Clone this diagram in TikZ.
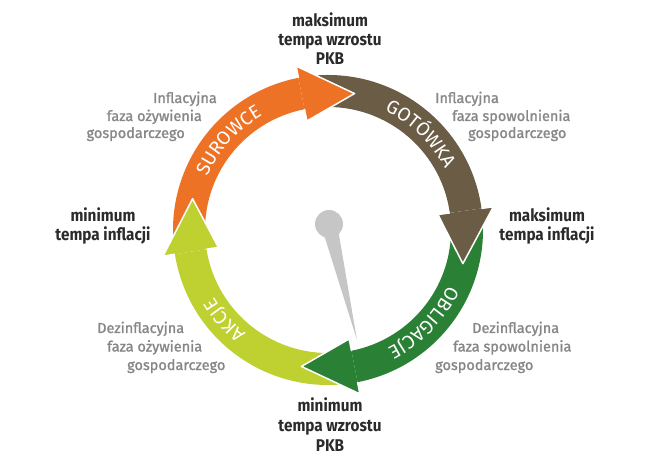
\documentclass[tikz,border=0pt]{standalone}
\usepackage{fontspec}
\setmainfont{Fira Sans}
\newfontfamily\headfont{Fira Sans}[FakeStretch=0.9]
\newfontfamily\phasefont{Fira Sans}[FakeBold=1.4]
\usetikzlibrary{decorations.text}

\definecolor{surowce}{HTML}{EE7226}
\definecolor{gotowka}{HTML}{6B5C45}
\definecolor{obligacje}{HTML}{2A8035}
\definecolor{akcje}{HTML}{BED131}
\definecolor{needle}{HTML}{C6C6C6}
\definecolor{darktext}{HTML}{2B2B2B}
\definecolor{phasetext}{HTML}{878787}

\newcommand\arcfont{\fontsize{19}{19}\selectfont}

\begin{document}
\begin{tikzpicture}[
    x=1pt, y=1pt,
    extremelbl/.style={font=\headfont\bfseries\fontsize{17}{20}\selectfont, text=darktext, inner sep=0pt, anchor=base},
    phaselbl/.style={font=\phasefont\fontsize{14.5}{17}\selectfont, text=phasetext, inner sep=0pt},
    headline/.style={draw=white, line width=1.5pt, line join=round},
    arclbl/.style={decorate, decoration={text along path, text align=center, text color=white}}
]

% Ring geometry (pt): centre, band radii, head radii, text baseline
\def\cx{328}
\def\cy{231}
\def\rin{123}
\def\rout{155}
\def\rmid{139}
\def\rhin{111}
\def\rhout{167}
\def\rtxt{132}

\useasboundingbox (0,0) rectangle (651,461);

% needle
\fill[needle] (329,237) circle[radius=14];
\fill[needle] (321.2,235.1) -- (357,121) -- (336.8,238.9) -- cycle;

\begin{scope}[shift={(\cx,\cy)}]

% bands
\fill[surowce]   (184:\rin) arc[start angle=184, end angle=101, radius=\rin]
                 -- (101:\rout) arc[start angle=101, end angle=184, radius=\rout] -- cycle;
\fill[gotowka]   (96:\rin) arc[start angle=96, end angle=8, radius=\rin]
                 -- (8:\rout) arc[start angle=8, end angle=96, radius=\rout] -- cycle;
\fill[obligacje] (4:\rin) arc[start angle=4, end angle=-79, radius=\rin]
                 -- (-79:\rout) arc[start angle=-79, end angle=4, radius=\rout] -- cycle;
\fill[akcje]     (-84:\rin) arc[start angle=-84, end angle=-171, radius=\rin]
                 -- (-171:\rout) arc[start angle=-171, end angle=-84, radius=\rout] -- cycle;

% heads
\fill[surowce] (101:\rhin) -- (79:\rmid) -- (101:\rhout) -- cycle;
\draw[headline] (101:\rin) -- (101:\rhin) -- (79:\rmid) -- (101:\rhout) -- (101:\rout);

\fill[gotowka] (8:\rhin) -- (-14:\rmid) -- (8:\rhout) -- cycle;
\draw[headline] (8:\rin) -- (8:\rhin) -- (-14:\rmid) -- (8:\rhout) -- (8:\rout);

\fill[obligacje] (-79:\rhin) -- (-101:\rmid) -- (-79:\rhout) -- cycle;
\draw[headline] (-79:\rin) -- (-79:\rhin) -- (-101:\rmid) -- (-79:\rhout) -- (-79:\rout);

\fill[akcje] (-171:\rhin) -- (-193:\rmid) -- (-171:\rhout) -- cycle;
\draw[headline] (-171:\rin) -- (-171:\rhin) -- (-193:\rmid) -- (-171:\rhout) -- (-171:\rout);

% band labels
\path[arclbl, decoration={text={|\arcfont|SUROWCE}}]
    (178:\rtxt) arc[start angle=178, end angle=98, radius=\rtxt];
\path[arclbl, decoration={text={|\arcfont|GOTÓWKA}}]
    (86:\rtxt) arc[start angle=86, end angle=6, radius=\rtxt];
\path[arclbl, decoration={text={|\arcfont|OBLIGACJE}}]
    (-4:\rtxt) arc[start angle=-4, end angle=-84, radius=\rtxt];
\path[arclbl, decoration={text={|\arcfont|AKCJE}}]
    (-99:\rtxt) arc[start angle=-99, end angle=-179, radius=\rtxt];

\end{scope}

% maksimum tempa wzrostu PKB
\node[extremelbl] (maxgdp1) at (330,434) {maksimum};
\node[extremelbl] (maxgdp2) at (330,415) {tempa wzrostu};
\node[extremelbl] (maxgdp3) at (330,396) {PKB};

% maksimum tempa inflacji
\node[extremelbl] (maxinf1) at (547,239) {maksimum};
\node[extremelbl] (maxinf2) at (547,220) {tempa inflacji};

% minimum tempa wzrostu PKB
\node[extremelbl] (mingdp1) at (330,50) {minimum};
\node[extremelbl] (mingdp2) at (330,30) {tempa wzrostu};
\node[extremelbl] (mingdp3) at (330,10) {PKB};

% minimum tempa inflacji
\node[extremelbl] (mininf1) at (103,239) {minimum};
\node[extremelbl] (mininf2) at (103,220) {tempa inflacji};

% Inflacyjna faza ozywienia
\node[phaselbl, anchor=base east] (infrec1) at (217,358) {Inflacyjna};
\node[phaselbl, anchor=base east] (infrec2) at (202,340) {faza ożywienia};
\node[phaselbl, anchor=base east] (infrec3) at (185,323) {gospodarczego};

% Inflacyjna faza spowolnienia
\node[phaselbl, anchor=base west] (infslow1) at (435,358) {Inflacyjna};
\node[phaselbl, anchor=base west] (infslow2) at (452,340) {faza spowolnienia};
\node[phaselbl, anchor=base west] (infslow3) at (468,323) {gospodarczego};

% Dezinflacyjna faza ozywienia
\node[phaselbl, anchor=base west] (disrec1) at (97,128) {Dezinflacyjna};
\node[phaselbl, anchor=base west] (disrec2) at (107,109.5) {faza ożywienia};
\node[phaselbl, anchor=base west] (disrec3) at (127,91) {gospodarczego};

% Dezinflacyjna faza spowolnienia
\node[phaselbl, anchor=base west] (disslow1) at (472,128) {Dezinflacyjna};
\node[phaselbl, anchor=base west] (disslow2) at (453,109.5) {faza spowolnienia};
\node[phaselbl, anchor=base west] (disslow3) at (435,91) {gospodarczego};

\end{tikzpicture}
\end{document}
